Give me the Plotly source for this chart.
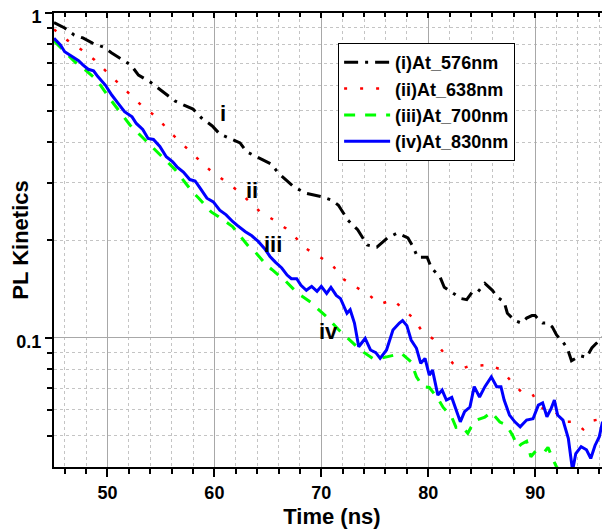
"""
PL kinetics decay traces at four emission wavelengths (log scale).
"""

import plotly.graph_objects as go

# ---- data -----------------------------------------------------------------
t_576 = [45.0, 46.0, 46.9, 47.7, 48.6, 49.6, 50.4, 51.4, 52.2, 52.9, 54.0, 54.6,
         55.6, 56.3, 57.1, 58.0, 58.8, 59.8, 60.5, 61.3, 62.4, 63.0, 64.3, 65.3,
         66.0, 66.7, 67.4, 68.5, 69.2, 70.0, 71.0, 71.6, 72.5, 73.4, 74.3, 75.2,
         76.2, 77.1, 78.1, 78.6, 79.0, 79.9, 80.3, 81.1, 81.5, 82.3, 83.1, 83.6,
         84.1, 84.6, 85.3, 86.0, 86.5, 87.1, 87.4, 88.1, 88.7, 89.2, 89.7, 90.0,
         90.4, 90.7, 91.2, 91.6, 92.0, 92.6, 93.0, 93.4, 94.2, 94.8, 95.3, 95.7,
         96.3, 97.0]
pl_576 = [0.935, 0.899, 0.855, 0.838, 0.808, 0.786, 0.753, 0.717, 0.691, 0.644,
          0.613, 0.592, 0.559, 0.536, 0.521, 0.506, 0.475, 0.449, 0.424, 0.412,
          0.398, 0.374, 0.357, 0.343, 0.321, 0.306, 0.292, 0.279, 0.275, 0.272,
          0.265, 0.256, 0.23, 0.215, 0.193, 0.19, 0.203, 0.21, 0.203, 0.19,
          0.177, 0.177, 0.164, 0.154, 0.143, 0.137, 0.132, 0.131, 0.138, 0.138,
          0.147, 0.14, 0.133, 0.129, 0.119, 0.113, 0.111, 0.115, 0.117, 0.117,
          0.113, 0.111, 0.111, 0.108, 0.102, 0.097, 0.093, 0.085, 0.088, 0.087,
          0.093, 0.096, 0.1, 0.102]

t_638 = [45.0, 46.3, 47.6, 48.8, 50.0, 51.1, 52.3, 53.4, 54.7, 55.7, 56.2, 57.3,
         58.4, 59.6, 60.9, 62.1, 63.2, 64.3, 65.6, 66.7, 67.5, 68.6, 69.9, 71.0,
         72.0, 73.2, 74.5, 75.5, 76.7, 77.6, 78.6, 79.4, 80.4, 81.3, 82.3, 83.1,
         83.8, 84.7, 85.7, 86.9, 87.9, 88.8, 89.7, 89.9, 90.7, 91.7, 92.7, 93.6,
         94.5, 95.4, 96.3, 97.0]
pl_638 = [0.89, 0.822, 0.769, 0.717, 0.655, 0.604, 0.552, 0.511, 0.476, 0.434,
          0.419, 0.386, 0.357, 0.328, 0.304, 0.285, 0.264, 0.244, 0.23, 0.217,
          0.205, 0.188, 0.177, 0.168, 0.152, 0.144, 0.135, 0.127, 0.131, 0.123,
          0.115, 0.105, 0.0995, 0.0912, 0.0834, 0.0802, 0.0818, 0.082, 0.0825,
          0.0795, 0.0724, 0.0677, 0.0675, 0.0657, 0.0606, 0.06, 0.0551, 0.0551,
          0.0522, 0.0556, 0.0563, 0.056]

t_700 = [45.0, 46.0, 47.0, 48.0, 49.0, 50.4, 52.1, 54.0, 55.7, 56.3, 58.0, 58.5,
         59.7, 60.4, 61.7, 62.2, 63.2, 63.8, 64.9, 65.4, 66.7, 67.8, 69.1, 69.4,
         70.5, 71.6, 72.4, 73.3, 73.9, 74.8, 75.5, 76.7, 77.5, 78.4, 78.9, 79.5,
         80.1, 80.9, 81.4, 82.2, 82.6, 83.2, 83.7, 84.0, 84.5, 85.3, 85.9, 86.7,
         87.3, 87.9, 88.4, 88.7, 89.2, 89.6, 90.1, 90.9, 91.2, 91.7, 92.0, 93.0,
         94.5, 96.0, 97.0]
pl_700 = [0.82, 0.76, 0.705, 0.665, 0.622, 0.535, 0.452, 0.392, 0.344, 0.33,
          0.28, 0.27, 0.244, 0.236, 0.22, 0.21, 0.191, 0.184, 0.167, 0.162,
          0.149, 0.137, 0.128, 0.125, 0.116, 0.106, 0.1, 0.094, 0.0905, 0.0864,
          0.0864, 0.088, 0.0895, 0.0843, 0.0758, 0.0707, 0.0703, 0.065, 0.061,
          0.057, 0.053, 0.0532, 0.0508, 0.053, 0.0558, 0.057, 0.059, 0.055,
          0.054, 0.05, 0.046, 0.047, 0.048, 0.043, 0.045, 0.0446, 0.046, 0.042,
          0.04, 0.037, 0.036, 0.039, 0.041]

t_830 = [45.0, 45.6, 46.0, 46.7, 47.3, 47.7, 48.2, 48.7, 49.1, 49.8, 50.4, 51.0,
         51.6, 52.3, 52.7, 53.3, 53.8, 54.3, 54.9, 55.5, 56.1, 56.5, 57.1, 57.7,
         58.2, 58.7, 59.3, 59.9, 60.5, 61.1, 61.7, 62.2, 62.9, 63.5, 64.1, 64.7,
         65.2, 65.7, 66.3, 66.8, 67.2, 67.7, 68.1, 68.6, 69.1, 69.6, 70.0, 70.5,
         70.9, 71.4, 71.8, 72.4, 72.7, 73.1, 73.5, 74.1, 74.6, 75.1, 75.5, 76.1,
         76.7, 77.3, 77.6, 78.0, 78.4, 78.9, 79.3, 79.7, 80.1, 80.4, 80.9, 81.3,
         81.7, 82.2, 82.6, 83.0, 83.4, 83.9, 84.3, 84.8, 85.3, 85.9, 86.4, 86.8,
         87.1, 87.6, 88.1, 88.6, 89.2, 89.8, 90.3, 90.7, 91.1, 91.5, 91.8, 92.1,
         92.6, 93.1, 93.5, 93.8, 94.3, 94.8, 95.2, 95.6, 96.0, 96.3, 96.6, 97.0]
pl_830 = [0.836, 0.797, 0.76, 0.733, 0.713, 0.692, 0.671, 0.664, 0.637, 0.6,
          0.559, 0.527, 0.497, 0.479, 0.457, 0.438, 0.411, 0.408, 0.388, 0.361,
          0.348, 0.336, 0.324, 0.307, 0.304, 0.288, 0.269, 0.262, 0.247, 0.239,
          0.228, 0.221, 0.212, 0.206, 0.198, 0.188, 0.178, 0.171, 0.164, 0.156,
          0.152, 0.152, 0.145, 0.14, 0.144, 0.139, 0.144, 0.137, 0.143, 0.135,
          0.132, 0.119, 0.122, 0.111, 0.0938, 0.0995, 0.0917, 0.09, 0.0864,
          0.0917, 0.1056, 0.111, 0.113, 0.109, 0.0984, 0.0928, 0.0834, 0.0864,
          0.0767, 0.0795, 0.0666, 0.069, 0.0643, 0.0655, 0.06, 0.0551, 0.0592,
          0.0612, 0.0707, 0.0657, 0.0707, 0.0758, 0.0707, 0.0707, 0.0643,
          0.0578, 0.0551, 0.0532, 0.0558, 0.0563, 0.062, 0.063, 0.0571, 0.0606,
          0.0643, 0.0578, 0.0558, 0.049, 0.039, 0.044, 0.0462, 0.0452, 0.0425,
          0.0466, 0.0496, 0.0551, 0.0514, 0.047]

series_names = ["(i)At_576nm", "(ii)At_638nm", "(iii)At_700nm", "(iv)At_830nm"]
curve_tags = ["i", "ii", "iii", "iv"]

x_major = [50, 60, 70, 80, 90]
x_minor = [46, 48, 52, 54, 56, 58, 62, 64, 66, 68, 72, 74, 76, 78,
           82, 84, 86, 88, 92, 94, 96]
y_major = [0.1, 1]
y_minor = [0.05, 0.06, 0.07, 0.08, 0.09, 0.2, 0.3, 0.4, 0.5, 0.6, 0.7, 0.8, 0.9]

FONT = "Arial, Liberation Sans, sans-serif"


def pl_kinetics_chart() -> go.Figure:
    """Log-scale PL decay, four wavelengths, Origin-like styling."""
    styles = [
        dict(color="#000000", width=3, dash="14px,7px,3px,7px"),
        dict(color="#ff0000", width=2.5, dash="3px,13px"),
        dict(color="#00ff00", width=3, dash="11px,10px"),
        dict(color="#0000ff", width=3, dash="solid"),
    ]
    xs = [t_576, t_638, t_700, t_830]
    ys = [pl_576, pl_638, pl_700, pl_830]

    fig = go.Figure()
    for name, x, y, line in zip(series_names, xs, ys, styles):
        fig.add_trace(go.Scatter(x=x, y=y, mode="lines", name=name, line=line))

    # roman-numeral tags next to the curves
    tag_pos = [(60.8, -0.308), (63.5, -0.545), (65.5, -0.714), (70.7, -0.981)]
    for tag, (tx, ty) in zip(curve_tags, tag_pos):
        fig.add_annotation(
            x=tx, y=ty, text=f"<b>{tag}</b>", showarrow=False,
            font=dict(family=FONT, size=22, color="black"),
        )

    minor_grid = dict(showgrid=True, gridcolor="#c4c4c4", griddash="dot", gridwidth=1)

    # page body keeps its default 8px margin, so the figure is 8px smaller
    fig.update_layout(
        width=602,
        height=521,
        plot_bgcolor="white",
        paper_bgcolor="white",
        margin=dict(l=46, r=0, t=5, b=62),
        font=dict(family=FONT, size=18, color="black"),
        legend=dict(
            x=0.511, y=0.934, xanchor="left", yanchor="top",
            bgcolor="white", bordercolor="black", borderwidth=1,
            font=dict(family=FONT, size=18, weight="bold"),
            tracegroupgap=0, itemwidth=46,
        ),
        xaxis=dict(
            range=[45, 97], automargin=False,
            tickvals=x_major,
            ticks="outside", ticklen=8, tickwidth=2, tickcolor="black",
            showline=True, linecolor="black", linewidth=2,
            showgrid=True, gridcolor="#a8a8a8", gridwidth=1,
            zeroline=False,
            tickfont=dict(family=FONT, size=18, weight="bold"),
            title=dict(text="<b>Time (ns)</b>", font=dict(family=FONT, size=22)),
            minor=dict(tickvals=x_minor, ticks="outside", ticklen=5, tickwidth=1.5,
                       tickcolor="black", **minor_grid),
        ),
        xaxis2=dict(
            range=[45, 97], overlaying="x", side="top", anchor="y", automargin=False,
            tickvals=x_major, showticklabels=False,
            ticks="inside", ticklen=5, tickwidth=2, tickcolor="black",
            showline=True, linecolor="black", linewidth=2,
            showgrid=False, zeroline=False,
            minor=dict(tickvals=x_minor, ticks="inside", ticklen=4, tickwidth=1.5,
                       tickcolor="black", showgrid=False),
        ),
        yaxis=dict(
            type="log", automargin=False,
            range=[-1.39794, 0],
            tickvals=y_major, ticktext=["0.1", "1"],
            ticklabeloverflow="allow", ticklabelshift=4,
            ticks="outside", ticklen=7, tickwidth=2, tickcolor="black",
            showline=True, linecolor="black", linewidth=2,
            showgrid=True, gridcolor="#a8a8a8", gridwidth=1,
            zeroline=False,
            tickfont=dict(family=FONT, size=18, weight="bold"),
            title=dict(text="<b>PL Kinetics</b>", font=dict(family=FONT, size=22)),
            minor=dict(tickvals=y_minor, ticks="outside", ticklen=5, tickwidth=1.5,
                       tickcolor="black", **minor_grid),
        ),
    )
    # empty trace so the mirrored top axis gets drawn
    fig.add_trace(go.Scatter(x=[], y=[], xaxis="x2", showlegend=False, hoverinfo="skip"))
    return fig


fig = pl_kinetics_chart()
fig.write_html("out.html", config={"displayModeBar": False})
